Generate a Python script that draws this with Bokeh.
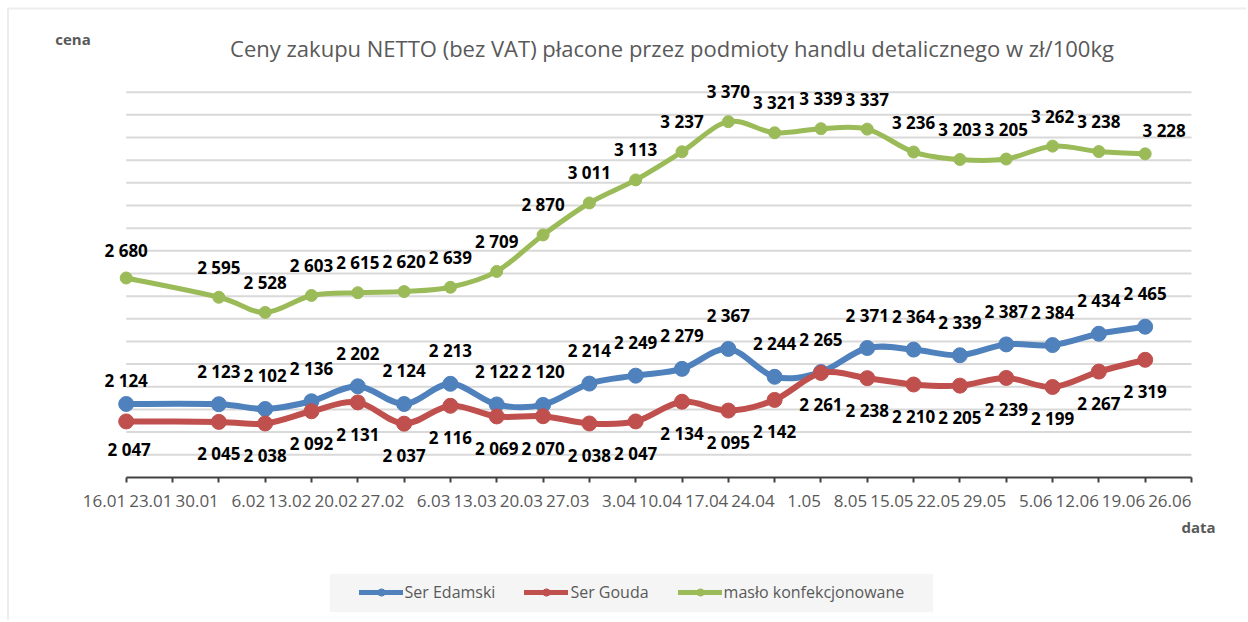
import numpy as np
from bokeh.plotting import figure
from bokeh.models import (ColumnDataSource, LabelSet, Label, Legend, LegendItem,
                          FixedTicker, Range1d, BoxAnnotation)
from bokeh.core.properties import value
from bokeh.embed import file_html
from bokeh.resources import INLINE

# ---------------- data ----------------
TICK_LABELS = ["16.01", "23.01", "30.01", "6.02", "13.02", "20.02", "27.02", "6.03",
               "13.03", "20.03", "27.03", "3.04", "10.04", "17.04", "24.04", "1.05",
               "8.05", "15.05", "22.05", "29.05", "5.06", "12.06", "19.06", "26.06"]
DATA_DATES = ["16.01", "30.01", "6.02", "13.02", "20.02", "27.02", "6.03",
              "13.03", "20.03", "27.03", "3.04", "10.04", "17.04", "24.04", "1.05",
              "8.05", "15.05", "22.05", "29.05", "5.06", "12.06", "19.06"]
ser_edamski = [2124, 2123, 2102, 2136, 2202, 2124, 2213, 2122, 2120, 2214, 2249,
               2279, 2367, 2244, 2265, 2371, 2364, 2339, 2387, 2384, 2434, 2465]
ser_gouda = [2047, 2045, 2038, 2092, 2131, 2037, 2116, 2069, 2070, 2038, 2047,
             2134, 2095, 2142, 2261, 2238, 2210, 2205, 2239, 2199, 2267, 2319]
maslo = [2680, 2595, 2528, 2603, 2615, 2620, 2639, 2709, 2870, 3011, 3113,
         3237, 3370, 3321, 3339, 3337, 3236, 3203, 3205, 3262, 3238, 3228]
SERIES_NAMES = ["Ser Edamski", "Ser Gouda", "masło konfekcjonowane"]
TITLE = "Ceny zakupu NETTO (bez VAT) płacone przez podmioty handlu detalicznego w zł/100kg"
Y_LABEL = "cena"
X_LABEL = "data"
Y_MIN, Y_GRID_MAX, Y_STEP = 1800, 3500, 100

# ---------------- layout / style ----------------
W, H = 1246, 620                 # canvas (frame covers the whole canvas)
X0_PX, DX_PX = 125.7, 46.317     # pixel of first category, pixels per category
YAX_PX, PX_PER_UNIT = 476.9, 0.22659
FONT_NAME = "Open Sans"
FONT = value(FONT_NAME)
GRAY_TXT = "#595959"
COLORS = ["#4F81BD", "#C0504D", "#9BBB59"]

x_start = -X0_PX / DX_PX
x_end = (W - X0_PX) / DX_PX
y_start = Y_MIN - (H - YAX_PX) / PX_PER_UNIT
y_end = Y_MIN + YAX_PX / PX_PER_UNIT

x_pos = [TICK_LABELS.index(d) for d in DATA_DATES]
n_ticks = len(TICK_LABELS)

p = figure(frame_width=W, frame_height=H,
           min_border_left=0, min_border_right=0, min_border_top=0, min_border_bottom=0,
           x_range=Range1d(x_start, x_end), y_range=Range1d(y_start, y_end),
           y_axis_location=None, output_backend="svg", toolbar_location=None,
           background_fill_color="white", border_fill_color="white")
p.title.visible = False
p.outline_line_color = None
p.xgrid.visible = False
p.ygrid.visible = False

# chart border (left and top visible)
p.add_layout(BoxAnnotation(left=7.5, top=H - 8, right=W + 20, bottom=-20,
                           left_units="screen", right_units="screen",
                           top_units="screen", bottom_units="screen",
                           fill_alpha=0, line_color="#C4C4C4", line_width=2))

# horizontal gridlines (every 100 from the axis up to 3500)
gy = np.arange(Y_MIN + Y_STEP, Y_GRID_MAX + 1, Y_STEP)
p.segment(x0=0, x1=n_ticks - 1, y0=gy, y1=gy, line_color="#D9D9D9", line_width=2)

# x axis drawn at y = 1800
ax = p.xaxis[0]
ax.fixed_location = Y_MIN
ax.ticker = FixedTicker(ticks=list(range(n_ticks)))
ax.major_label_overrides = {i: t for i, t in enumerate(TICK_LABELS)}
ax.bounds = (0, n_ticks - 1)
ax.axis_line_color = "#404040"
ax.axis_line_width = 2
ax.major_tick_line_color = "#404040"
ax.major_tick_line_width = 2
ax.major_tick_out = 5
ax.major_tick_in = 0
ax.minor_tick_line_color = None
ax.major_label_orientation = 0.0001
ax.major_label_standoff = 19
ax.major_label_text_font = FONT_NAME
ax.major_label_text_font_size = "17px"
ax.major_label_text_color = GRAY_TXT

def smooth_segments(xs, ys):
    """Bezier control points (Catmull-Rom style, like a smoothed Excel line)."""
    xs = np.asarray(xs, float); ys = np.asarray(ys, float)
    n = len(xs)
    xp = np.concatenate([[xs[0]], xs, [xs[-1]]])
    yp = np.concatenate([[ys[0]], ys, [ys[-1]]])
    d = dict(x0=[], y0=[], x1=[], y1=[], cx0=[], cy0=[], cx1=[], cy1=[])
    for i in range(n - 1):
        j = i + 1
        d["x0"].append(xs[i]); d["y0"].append(ys[i])
        d["x1"].append(xs[i + 1]); d["y1"].append(ys[i + 1])
        d["cx0"].append(xs[i] + (xp[j + 1] - xp[j - 1]) / 6)
        d["cy0"].append(ys[i] + (yp[j + 1] - yp[j - 1]) / 6)
        d["cx1"].append(xs[i + 1] - (xp[j + 2] - xp[j]) / 6)
        d["cy1"].append(ys[i + 1] - (yp[j + 2] - yp[j]) / 6)
    return d

series = [ser_edamski, ser_gouda, maslo]
line_w = [6, 6, 5]
mark_s = [15, 15, 12]
default_off = [(0, 33), (0, -32), (0, 30)]
special_off = [{0: (0, 23)}, {0: (3, -28)}, {0: (0, 28), 21: (19, 23)}]

items = []
for k, vals in enumerate(series):
    xo = [special_off[k].get(i, default_off[k])[0] for i in range(len(vals))]
    yo = [special_off[k].get(i, default_off[k])[1] for i in range(len(vals))]
    src = ColumnDataSource(dict(x=x_pos, y=vals,
                                lab=[f"{v:,}".replace(",", " ") for v in vals],
                                xo=xo, yo=yo))
    bz = ColumnDataSource(smooth_segments(x_pos, vals))
    p.bezier(x0="x0", y0="y0", x1="x1", y1="y1", cx0="cx0", cy0="cy0", cx1="cx1", cy1="cy1",
             source=bz, line_color=COLORS[k], line_width=line_w[k], line_cap="round")
    ln = p.line("x", "y", source=src, line_color=COLORS[k], line_width=5,
                line_join="round", line_cap="round", visible=False)
    sc = p.scatter("x", "y", source=src, marker="circle", size=mark_s[k],
                   fill_color=COLORS[k], line_color=COLORS[k])
    p.add_layout(LabelSet(x="x", y="y", text="lab", source=src, x_offset="xo", y_offset="yo",
                          text_align="center", text_baseline="middle", text_font=FONT,
                          text_font_style="bold", text_font_size="17px", text_color="black"))
    items.append(LegendItem(label=SERIES_NAMES[k], renderers=[ln, sc]))

# legend background box and legend
p.add_layout(BoxAnnotation(left=329.5, right=932.6, top=H - 573.3, bottom=H - 611.7,
                           left_units="screen", right_units="screen",
                           top_units="screen", bottom_units="screen",
                           fill_color="#F5F5F5", fill_alpha=1, line_color=None))
legend = Legend(items=items, orientation="horizontal", location=(358.5, H - 603.2),
                background_fill_alpha=0, border_line_color=None, padding=10, spacing=29,
                margin=0, glyph_width=44, glyph_height=18, label_standoff=2,
                label_text_font=FONT_NAME, label_text_font_size="16px",
                label_text_color=GRAY_TXT)
p.add_layout(legend)

# texts around the chart (frame = canvas; screen units from bottom-left)
p.add_layout(Label(x=671.5, y=H - 47, x_units="screen", y_units="screen", text=TITLE,
                   text_align="center", text_baseline="middle", text_font=FONT_NAME,
                   text_font_size="22px", text_color=GRAY_TXT))
p.add_layout(Label(x=72.5, y=H - 38.5, x_units="screen", y_units="screen", text=Y_LABEL,
                   text_align="center", text_baseline="middle", text_font=FONT_NAME,
                   text_font_style="bold", text_font_size="15px", text_color=GRAY_TXT))
p.add_layout(Label(x=1198, y=H - 526.7, x_units="screen", y_units="screen", text=X_LABEL,
                   text_align="center", text_baseline="middle", text_font=FONT_NAME,
                   text_font_style="bold", text_font_size="15px", text_color=GRAY_TXT))

open("out.html", "w").write(file_html(p, INLINE))
